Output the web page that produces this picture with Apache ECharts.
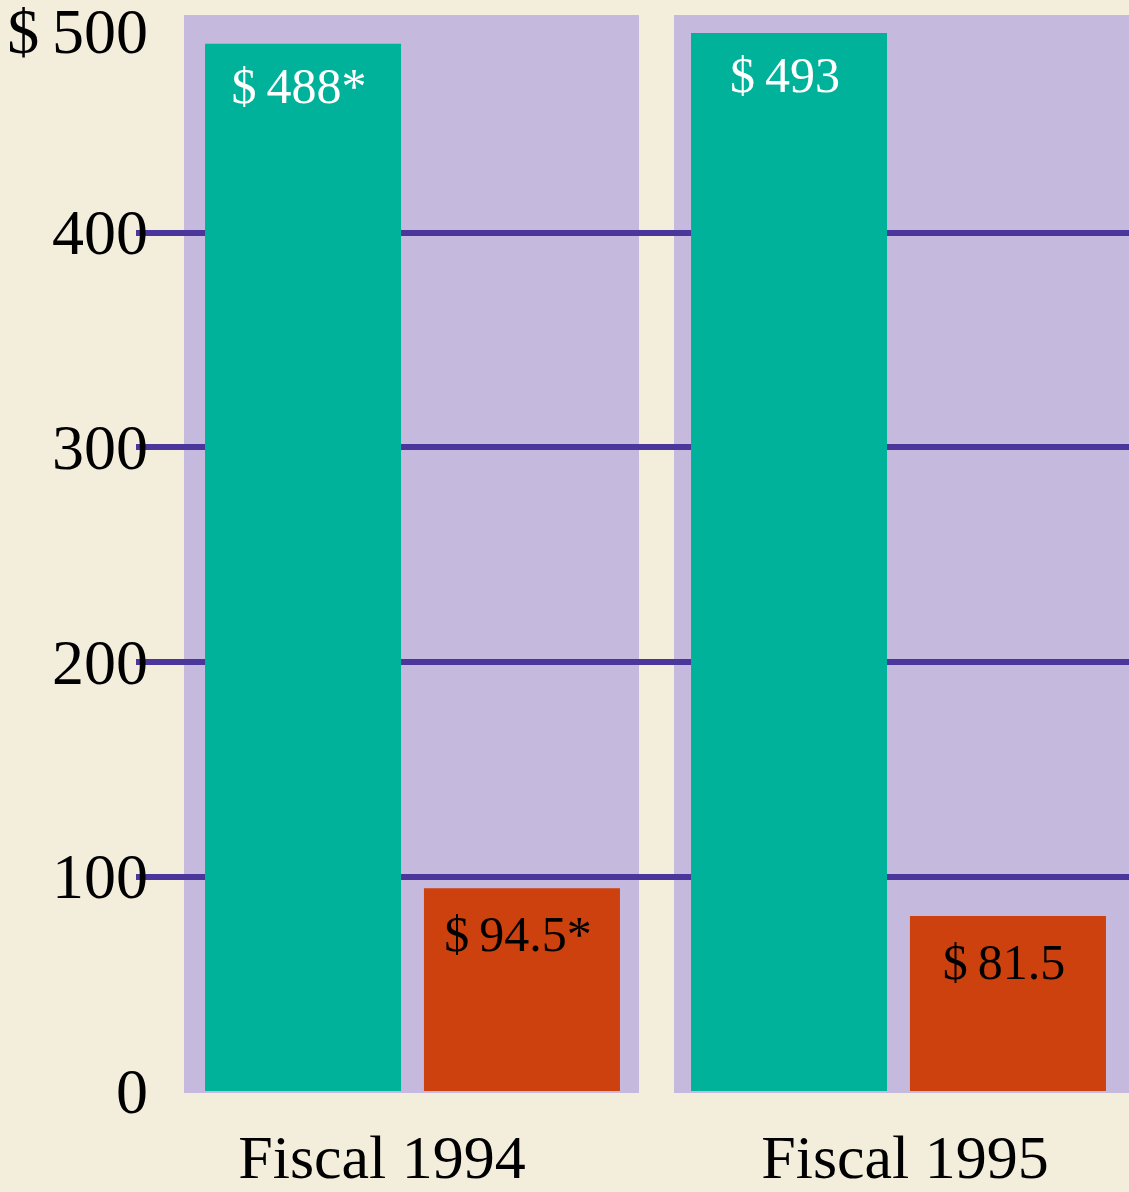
<!DOCTYPE html>
<html>
<head>
<meta charset="utf-8">
<script src="https://cdn.jsdelivr.net/npm/echarts@6/dist/echarts.min.js"></script>
<style>
  html, body { margin: 0; padding: 0; background: #F3EDDB; }
  #chart { width: 1129px; height: 1192px; }
</style>
</head>
<body>
<div id="chart"></div>
<script>
// fiscal years
const categories = ['Fiscal 1994', 'Fiscal 1995'];
// green bars (dollars)
const greenValues = [488, 493];
// orange bars (dollars)
const orangeValues = [94.5, 81.5];
// figures marked with an asterisk
const starred = [true, false];
// y axis ticks
const yTicks = [0, 100, 200, 300, 400, 500];

const GREEN = '#00B29A';
const ORANGE = '#CC410D';
const PANEL = '#C5B9DD';
const LINE = '#4B369B';
const FONT = '"Liberation Serif", "Times New Roman", serif';

const chart = echarts.init(document.getElementById('chart'));

function money(v, i) {
  return '$\u2009' + v + (starred[i] ? '*' : '');
}

// grid 0: horizontal rules + y labels, 1-2: lavender panels, 3-4: bars
const grids = [
  { left: 136, right: 0, top: 18, bottom: 101 },
  { left: 184, width: 455, top: 15, bottom: 99, show: true, backgroundColor: PANEL, borderWidth: 0, z: 0 },
  { left: 674, width: 455, top: 15, bottom: 99, show: true, backgroundColor: PANEL, borderWidth: 0, z: 0 },
  { left: 185, width: 455, top: 18, bottom: 101 },
  { left: 671, width: 455, top: 18, bottom: 101 }
];
grids.forEach(function (g) { g.outerBoundsMode = 'none'; g.containLabel = false; });

const labelPad = [[0, 61, 0, 0], [0, 0, 0, 13]];

const xAxes = [
  { gridIndex: 0, type: 'value', min: 0, max: 1, show: false },
  { gridIndex: 1, type: 'value', min: 0, max: 1, show: false },
  { gridIndex: 2, type: 'value', min: 0, max: 1, show: false }
];
const yAxes = [
  {
    gridIndex: 0, type: 'value', min: yTicks[0], max: yTicks[yTicks.length - 1], interval: 100, z: 1,
    axisLine: { show: false }, axisTick: { show: false },
    splitLine: {
      show: true,
      lineStyle: { width: 6, color: yTicks.map(function (t, i) { return (i === 0 || i === yTicks.length - 1) ? 'rgba(0,0,0,0)' : LINE; }) }
    },
    axisLabel: {
      margin: -12,
      formatter: function (v) { return v === 500 ? '{top|$\u2009' + v + '}' : '{n|' + v + '}'; },
      rich: {
        top: { fontFamily: FONT, fontSize: 64, color: '#000', padding: [36, 0, 0, 0] },
        n: { fontFamily: FONT, fontSize: 64, color: '#000', padding: [10, 0, 0, 0] }
      }
    }
  },
  { gridIndex: 1, type: 'value', min: 0, max: 1, show: false },
  { gridIndex: 2, type: 'value', min: 0, max: 1, show: false }
];

const series = [];
categories.forEach(function (cat, i) {
  xAxes.push({
    gridIndex: 3 + i, type: 'category', data: [cat],
    axisLine: { show: false }, axisTick: { show: false },
    axisLabel: { fontFamily: FONT, fontSize: 62, color: '#000', margin: 40, padding: labelPad[i] }
  });
  yAxes.push({ gridIndex: 3 + i, type: 'value', min: 0, max: 500, show: false, splitLine: { show: false } });
  series.push({
    type: 'bar', xAxisIndex: 3 + i, yAxisIndex: 3 + i,
    data: [greenValues[i]], barWidth: 196, barGap: '11.7%',
    itemStyle: { color: GREEN },
    label: {
      show: true, position: 'insideTop', offset: [-4, 16],
      fontFamily: FONT, fontSize: 50, color: '#fff',
      formatter: function (p) { return money(p.value, i); }
    }
  });
  series.push({
    type: 'bar', xAxisIndex: 3 + i, yAxisIndex: 3 + i,
    data: [orangeValues[i]], barWidth: 196, barGap: '11.7%',
    itemStyle: { color: ORANGE },
    label: {
      show: true, position: 'insideTop', offset: [-4, 20],
      fontFamily: FONT, fontSize: 50, color: '#000',
      formatter: function (p) { return money(p.value, i); }
    }
  });
});

chart.setOption({
  backgroundColor: '#F3EDDB',
  animation: false,
  grid: grids,
  xAxis: xAxes,
  yAxis: yAxes,
  series: series
});
</script>
</body>
</html>
